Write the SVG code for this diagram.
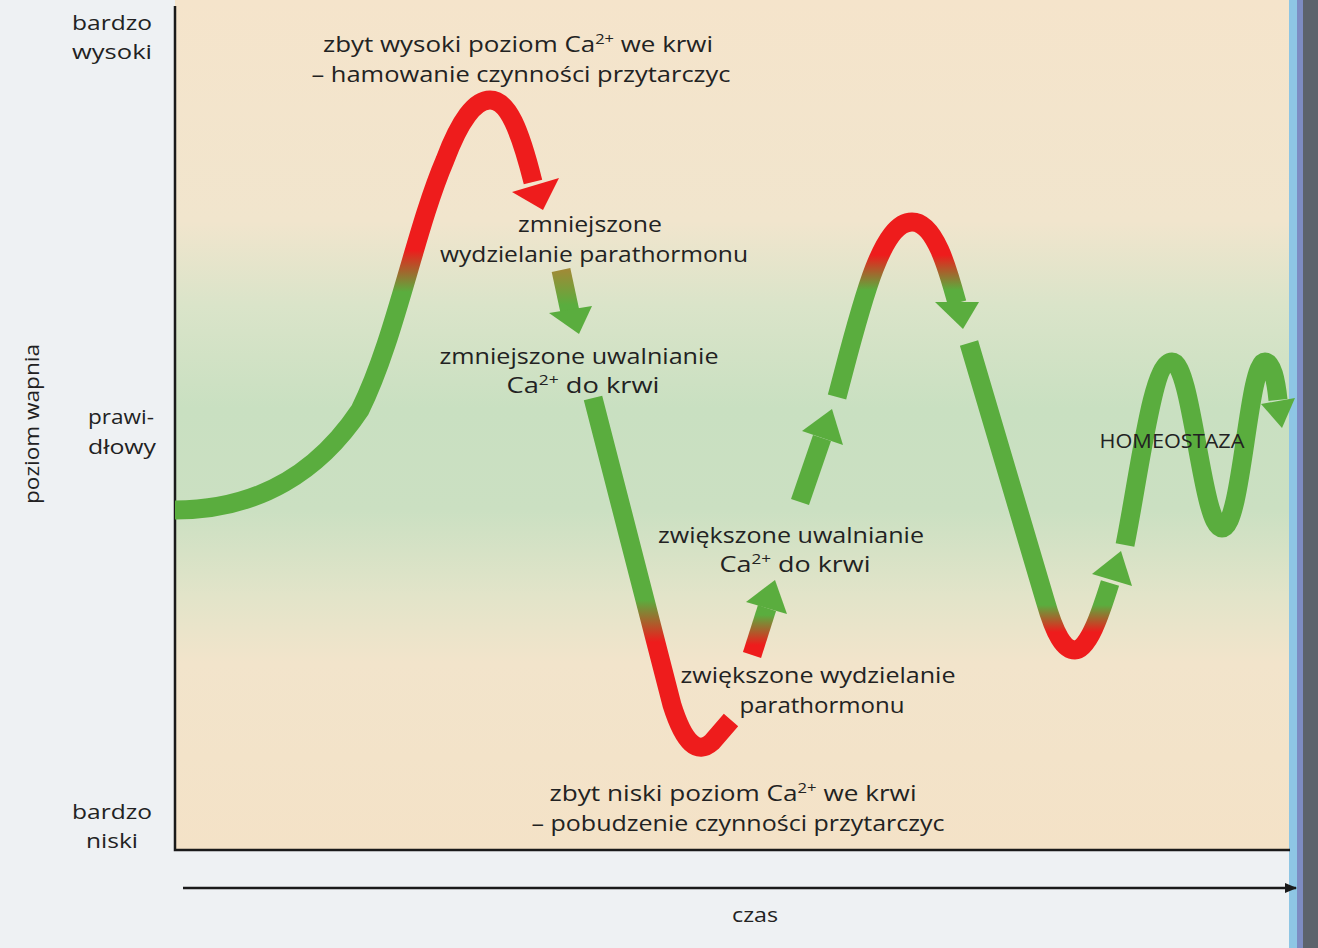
<svg xmlns="http://www.w3.org/2000/svg" width="1318" height="948" viewBox="0 0 1318 948">
<style>
.t{font-family:"Open Sans","Noto Sans","Liberation Sans",sans-serif;font-size:22px;fill:#222;text-anchor:middle}
.y{font-family:"Open Sans","Noto Sans","Liberation Sans",sans-serif;font-size:20.5px;fill:#222;text-anchor:middle}
.c{font-family:"Open Sans","Noto Sans","Liberation Sans",sans-serif;font-size:20px;fill:#222;text-anchor:middle}
.sup{font-size:14px}
.ax{stroke:#1a1a1a;stroke-width:2.5;fill:none}
.s{fill:none;stroke-width:19;stroke-linecap:butt;stroke-linejoin:round}
</style>
<defs>
<linearGradient id="bg" x1="0" y1="0" x2="0" y2="850" gradientUnits="userSpaceOnUse">
<stop offset="0" stop-color="#f5e4cb"/>
<stop offset="0.26" stop-color="#f1e5cd"/>
<stop offset="0.36" stop-color="#dae4c9"/>
<stop offset="0.48" stop-color="#c9e0c1"/>
<stop offset="0.6" stop-color="#cbe0c2"/>
<stop offset="0.7" stop-color="#e2e4c9"/>
<stop offset="0.78" stop-color="#f2e4cb"/>
<stop offset="1" stop-color="#f4e2c7"/>
</linearGradient>
<linearGradient id="g1" x1="0" y1="292" x2="0" y2="250" gradientUnits="userSpaceOnUse">
<stop offset="0" stop-color="#5aad3e"/><stop offset="1" stop-color="#ee1c1c"/>
</linearGradient>
<linearGradient id="g2" x1="0" y1="270" x2="0" y2="305" gradientUnits="userSpaceOnUse">
<stop offset="0" stop-color="#a08a36"/><stop offset="1" stop-color="#5aad3e"/>
</linearGradient>
<linearGradient id="g3" x1="0" y1="600" x2="0" y2="642" gradientUnits="userSpaceOnUse">
<stop offset="0" stop-color="#5aad3e"/><stop offset="1" stop-color="#ee1c1c"/>
</linearGradient>
<linearGradient id="g4" x1="0" y1="615" x2="0" y2="645" gradientUnits="userSpaceOnUse">
<stop offset="0" stop-color="#5aad3e"/><stop offset="1" stop-color="#ee1c1c"/>
</linearGradient>
<linearGradient id="g6" x1="0" y1="290" x2="0" y2="255" gradientUnits="userSpaceOnUse">
<stop offset="0" stop-color="#5aad3e"/><stop offset="1" stop-color="#ee1c1c"/>
</linearGradient>
<linearGradient id="g7" x1="0" y1="605" x2="0" y2="632" gradientUnits="userSpaceOnUse">
<stop offset="0" stop-color="#5aad3e"/><stop offset="1" stop-color="#ee1c1c"/>
</linearGradient>
<marker id="ah" viewBox="0 0 12 10" refX="11" refY="5" markerWidth="12" markerHeight="10" markerUnits="userSpaceOnUse" orient="auto">
<path d="M0,0 L12,5 L0,10 Z" fill="#1a1a1a"/>
</marker>
</defs>

<rect x="0" y="0" width="1318" height="948" fill="#eef1f3"/>
<rect x="175" y="0" width="1115" height="850" fill="url(#bg)"/>
<rect x="1289" y="0" width="8" height="948" fill="#8ec6e4"/>
<rect x="1297" y="0" width="6" height="948" fill="#7d8cc2"/>
<rect x="1303" y="0" width="15" height="948" fill="#5c636c"/>

<g id="axes">
<path class="ax" d="M175,6 V850 H1290"/>
<path class="ax" d="M183,888 H1296" marker-end="url(#ah)"/>
</g>

<g id="labels-y">
<text class="y" x="112" y="30" textLength="80" lengthAdjust="spacingAndGlyphs">bardzo</text>
<text class="y" x="112" y="59" textLength="80" lengthAdjust="spacingAndGlyphs">wysoki</text>
<text class="y" x="121" y="424" textLength="66" lengthAdjust="spacingAndGlyphs">prawi-</text>
<text class="y" x="122" y="454" textLength="68" lengthAdjust="spacingAndGlyphs">dłowy</text>
<text class="y" x="112" y="819" textLength="80" lengthAdjust="spacingAndGlyphs">bardzo</text>
<text class="y" x="112" y="848" textLength="52" lengthAdjust="spacingAndGlyphs">niski</text>
<text class="c" transform="translate(39,424) rotate(-90)" textLength="160" lengthAdjust="spacingAndGlyphs">poziom wapnia</text>
<text class="c" x="755" y="922" textLength="46" lengthAdjust="spacingAndGlyphs">czas</text>
</g>

<g id="connectors">
<g id="c1">
<path class="s" stroke="url(#g1)" d="M175,510 C260,510 320,470 360,410 C395,340 415,230 445,160 C460,120 475,100 490,100 C508,100 520,130 533,182"/>
<polygon fill="#ee1c1c" points="512,192 559,178 543,210"/>
</g>
<g id="c2">
<path class="s" stroke="url(#g2)" stroke-width="16" d="M561,270 L570,312"/>
<polygon fill="#5aad3e" points="549,313 592,306 579,334"/>
</g>
<path id="c3" class="s" stroke="url(#g3)" d="M593,398 L672,705 Q690,762 712,742 L731,720"/>
<g id="c4">
<path class="s" stroke="url(#g4)" d="M752,655 L767,608"/>
<polygon fill="#5aad3e" points="746,602 787,614 775,580"/>
</g>
<g id="c5">
<path class="s" stroke="#5aad3e" d="M800,502 L822,438"/>
<polygon fill="#5aad3e" points="802,431 843,445 832,409"/>
</g>
<g id="c6">
<path class="s" stroke="url(#g6)" d="M837,397 C860,310 880,222 912,222 C935,222 948,270 957,303"/>
<polygon fill="#5aad3e" points="935,302 979,302 963,329"/>
</g>
<g id="c7">
<path class="s" stroke="url(#g7)" d="M969,343 L1045,600 C1055,635 1064,650 1075,650 C1088,650 1100,615 1110,583"/>
<polygon fill="#5aad3e" points="1092,574 1132,586 1121,551"/>
</g>
<g id="c8">
<path class="s" stroke="#5aad3e" d="M1125,545 C1140,470 1152,362 1172,362 C1192,362 1202,528 1222,528 C1242,528 1248,362 1265,362 C1272,362 1276,380 1278,400"/>
<polygon fill="#5aad3e" points="1261,404 1295,398 1282,428"/>
</g>
</g>

<g id="n-high">
<text class="t" x="518" y="52" textLength="390" lengthAdjust="spacingAndGlyphs">zbyt wysoki poziom Ca<tspan class="sup" dy="-8">2+</tspan><tspan dy="8"> we krwi</tspan></text>
<text class="t" x="521" y="82" textLength="419" lengthAdjust="spacingAndGlyphs">– hamowanie czynności przytarczyc</text>
</g>
<g id="n-dec-pth">
<text class="t" x="590" y="232" textLength="144" lengthAdjust="spacingAndGlyphs">zmniejszone</text>
<text class="t" x="594" y="262" textLength="308" lengthAdjust="spacingAndGlyphs">wydzielanie parathormonu</text>
</g>
<g id="n-dec-ca">
<text class="t" x="579" y="364" textLength="279" lengthAdjust="spacingAndGlyphs">zmniejszone uwalnianie</text>
<text class="t" x="583" y="393" textLength="153" lengthAdjust="spacingAndGlyphs">Ca<tspan class="sup" dy="-8">2+</tspan><tspan dy="8"> do krwi</tspan></text>
</g>
<g id="n-inc-ca">
<text class="t" x="791" y="543" textLength="266" lengthAdjust="spacingAndGlyphs">zwiększone uwalnianie</text>
<text class="t" x="795" y="572" textLength="151" lengthAdjust="spacingAndGlyphs">Ca<tspan class="sup" dy="-8">2+</tspan><tspan dy="8"> do krwi</tspan></text>
</g>
<g id="n-inc-pth">
<text class="t" x="818" y="683" textLength="275" lengthAdjust="spacingAndGlyphs">zwiększone wydzielanie</text>
<text class="t" x="822" y="713" textLength="165" lengthAdjust="spacingAndGlyphs">parathormonu</text>
</g>
<g id="n-low">
<text class="t" x="733" y="801" textLength="367" lengthAdjust="spacingAndGlyphs">zbyt niski poziom Ca<tspan class="sup" dy="-8">2+</tspan><tspan dy="8"> we krwi</tspan></text>
<text class="t" x="738" y="831" textLength="413" lengthAdjust="spacingAndGlyphs">– pobudzenie czynności przytarczyc</text>
</g>
<g id="n-homeo">
<text class="c" x="1172" y="448" font-size="21" textLength="145" lengthAdjust="spacingAndGlyphs">HOMEOSTAZA</text>
</g>
</svg>
